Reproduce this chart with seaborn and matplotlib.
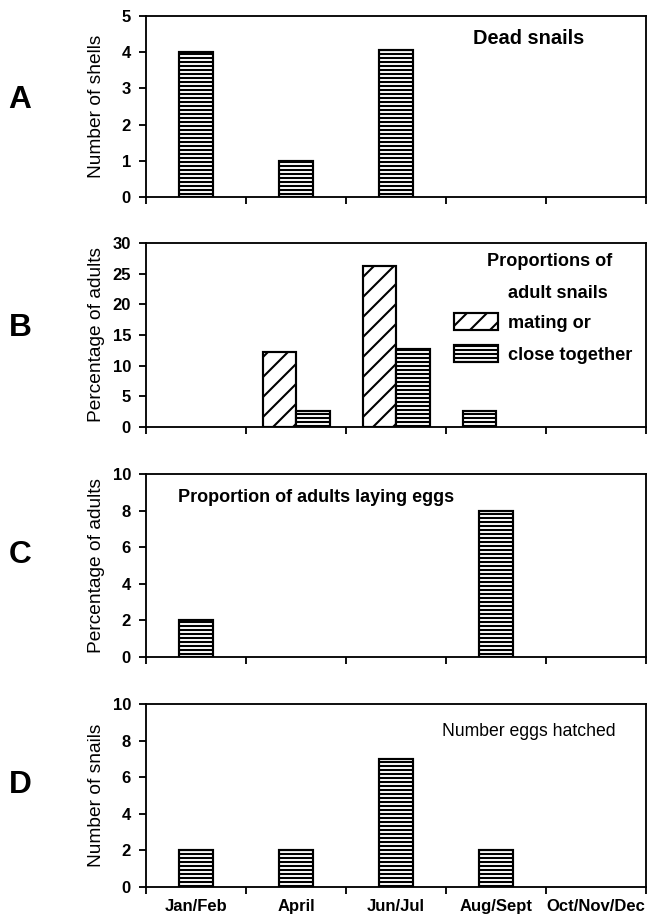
import numpy as np
import pandas as pd
import matplotlib
matplotlib.use("Agg")
import matplotlib.pyplot as plt
import seaborn as sns
from matplotlib.patches import Patch

# ---------------- data ----------------
periods = ["Jan/Feb", "April", "Jun/Jul", "Aug/Sept", "Oct/Nov/Dec"]

dead_shells = [4, 1, 4.05, 0, 0]                 # A: number of shells

mating = [0, 12.3, 26.3, 0, 0]                   # B: % adults mating
close_together = [0, 2.6, 12.7, 2.6, 0]          # B: % adults close together
b_series = ["mating or", "close together"]

laying_eggs = [2, 0, 0, 8, 0]                    # C: % adults laying eggs

eggs_hatched = [2, 2, 7, 2, 0]                   # D: number of snails

panel_letters = ["A", "B", "C", "D"]
y_labels = ["Number of shells", "Percentage of adults",
            "Percentage of adults", "Number of snails"]
y_limits = [5, 30, 10, 10]
y_steps = [1, 5, 2, 2]
panel_notes = ["Dead snails", None, "Proportion of adults laying eggs",
               "Number eggs hatched"]
legend_title = ["Proportions of", "adult snails"]

# ---------------- style ----------------
sns.set_style("ticks")
FONT = ["Liberation Sans", "DejaVu Sans"]
plt.rcParams["font.family"] = FONT
for key in ["text.color", "axes.labelcolor", "xtick.color", "ytick.color",
            "axes.edgecolor"]:
    plt.rcParams[key] = "black"
plt.rcParams["hatch.linewidth"] = 1.25
plt.rcParams["hatch.color"] = "black"

DPI = 120
fig = plt.figure(figsize=(650 / DPI, 921 / DPI), dpi=DPI)

W, H = 650, 921
left_px, right_px = 146, 646
AW = right_px - left_px
boxes = [(16, 197), (243, 427), (474, 657), (704, 887)]
letter_y = [100, 328, 555, 785]

axes = []
for (top, bot) in boxes:
    ax = fig.add_axes([left_px / W, 1 - bot / H, AW / W, (bot - top) / H])
    axes.append(ax)

HATCH_H = "-----"
HATCH_D = "//"
bar_kw = dict(color="white", edgecolor="black", linewidth=1.3, saturation=1)

# A
sns.barplot(x=periods, y=dead_shells, ax=axes[0], width=0.34,
            hatch=HATCH_H, **bar_kw)

# B (grouped)
df_b = pd.DataFrame({
    "period": periods * 2,
    "value": mating + close_together,
    "series": [b_series[0]] * len(periods) + [b_series[1]] * len(periods),
})
sns.barplot(data=df_b, x="period", y="value", hue="series", ax=axes[1],
            palette=["white", "white"], edgecolor="black", linewidth=1.3,
            width=0.67, legend=False, saturation=1)
for cont, h in zip(axes[1].containers, [HATCH_D, HATCH_H]):
    for bar in cont:
        bar.set_hatch(h)
# in the source figure a lone "close together" bar sits in the left slot
for i, bar in enumerate(axes[1].containers[1]):
    if mating[i] == 0 and close_together[i] > 0:
        bar.set_x(bar.get_x() - bar.get_width())

# C
sns.barplot(x=periods, y=laying_eggs, ax=axes[2], width=0.34,
            hatch=HATCH_H, **bar_kw)
# D
sns.barplot(x=periods, y=eggs_hatched, ax=axes[3], width=0.34,
            hatch=HATCH_H, **bar_kw)

# zero-valued bars are not drawn in the source figure
for ax in axes:
    for cont in ax.containers:
        for bar in cont:
            if bar.get_height() == 0:
                bar.set_visible(False)

for k, ax in enumerate(axes):
    ax.set_xlim(-0.5, len(periods) - 0.5)
    ax.set_ylim(0, y_limits[k])
    ax.set_yticks(np.arange(0, y_limits[k] + 0.01, y_steps[k]))
    ax.set_yticklabels([f"{v:g}" for v in ax.get_yticks()],
                       fontsize=10, fontweight="bold")
    ax.set_xticks(np.arange(-0.5, len(periods), 1))
    ax.set_xticklabels([])
    ax.set_xticks(np.arange(len(periods)), minor=True)
    if k == 3:
        ax.set_xticklabels(periods, minor=True, fontsize=10,
                           fontweight="bold")
    else:
        ax.set_xticklabels([], minor=True)
    ax.tick_params(axis="x", which="major", direction="out", length=4,
                   width=1.1, color="black")
    ax.tick_params(axis="x", which="minor", length=0, pad=7)
    ax.tick_params(axis="y", direction="out", length=4, width=1.1,
                   color="black", pad=5)
    for sp in ax.spines.values():
        sp.set_visible(True)
        sp.set_linewidth(1.1)
        sp.set_color("black")
    ax.set_xlabel("")
    ax.set_ylabel(y_labels[k], fontsize=11.5)
    ax.yaxis.set_label_coords((105 - left_px) / AW, 0.5)
    fig.text(20 / W, 1 - letter_y[k] / H, panel_letters[k], fontsize=19,
             fontweight="bold", ha="center", va="center")

# panel notes
axes[0].text((473 - left_px) / AW, 0.873, panel_notes[0],
             transform=axes[0].transAxes, fontsize=12, fontweight="bold",
             ha="left", va="center")
axes[2].text((178 - left_px) / AW, 0.869, panel_notes[2],
             transform=axes[2].transAxes, fontsize=10.8, fontweight="bold",
             ha="left", va="center")
axes[3].text((442 - left_px) / AW, 0.847, panel_notes[3],
             transform=axes[3].transAxes, fontsize=10.6,
             ha="left", va="center")

# legend for B
axb = axes[1]
fs = 10.9
axb.text((487 - left_px) / AW, 0.897, legend_title[0], transform=axb.transAxes,
         fontsize=fs, fontweight="bold", ha="left", va="center")
axb.text((508 - left_px) / AW, 0.723, legend_title[1], transform=axb.transAxes,
         fontsize=fs, fontweight="bold", ha="left", va="center")
handles = [Patch(facecolor="white", edgecolor="black", hatch=HATCH_D, linewidth=1.3),
           Patch(facecolor="white", edgecolor="black", hatch=HATCH_H, linewidth=1.3)]
fs_px = fs * DPI / 72
axb.legend(handles, b_series, loc="upper left",
           bbox_to_anchor=((454 - left_px) / AW, (427 - 313) / 184),
           frameon=False, borderpad=0, borderaxespad=0,
           handlelength=44 / fs_px, handleheight=20 / fs_px,
           handletextpad=10 / fs_px, labelspacing=0.72,
           prop={"weight": "bold", "size": fs})

fig.savefig("out.png", dpi=DPI)
